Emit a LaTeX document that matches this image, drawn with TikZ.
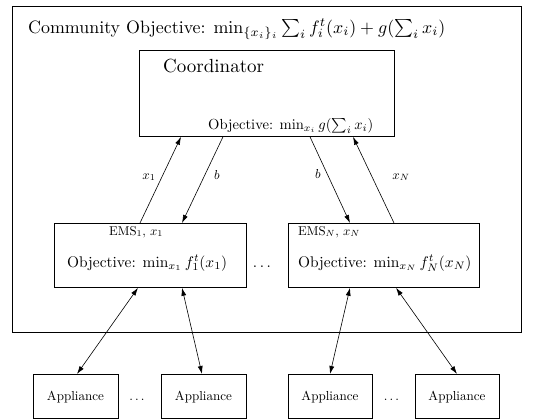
\documentclass[tikz,border=0pt]{standalone}
\usetikzlibrary{arrows.meta}
\newcommand\sbx[2]{\scalebox{#1}{#2}}
\begin{document}
\begin{tikzpicture}[x=1pt,y=-1pt,
  box/.style={draw, line width=0.8pt, inner sep=0pt, anchor=north west},
  txt/.style={inner sep=0pt, anchor=base west, font=\fontsize{10}{12}\selectfont},
  ctxt/.style={inner sep=0pt, anchor=base, font=\fontsize{10}{12}\selectfont},
  arr/.style={line width=0.6pt, -{Latex[length=8pt,width=5pt]}},
  darr/.style={line width=0.6pt, {Latex[length=8pt,width=5pt]}-{Latex[length=8pt,width=5pt]}},
  lab/.style={inner sep=0pt, anchor=base, font=\fontsize{10}{12}\selectfont}]
\useasboundingbox (0,0) rectangle (533,418);
% boxes
\node[box, minimum width=509pt, minimum height=326pt] (outer) at (12,6) {};
\node[box, minimum width=255pt, minimum height=86pt] (coord) at (139,50) {};
\node[box, minimum width=192pt, minimum height=64pt] (ems1) at (54,223) {};
\node[box, minimum width=191pt, minimum height=64pt] (emsN) at (288,223) {};
\node[box, minimum width=85pt, minimum height=43.5pt] (app1) at (33,374) {};
\node[box, minimum width=85pt, minimum height=43.5pt] (app2) at (161,374) {};
\node[box, minimum width=84pt, minimum height=43.5pt] (app3) at (288,374) {};
\node[box, minimum width=84pt, minimum height=43.5pt] (app4) at (415,374) {};
% texts
\node[txt] (title) at (28,33)
  {\sbx{1.789}{Community Objective: $\min_{\{x_i\}_i} \sum_i f_i^t(x_i) + g(\sum_i x_i)$}};
\node[txt] (coordname) at (163,72) {\sbx{1.9}{Coordinator}};
\node[txt] (coordobj) at (208,129)
  {\sbx{1.461}{Objective: $\min_{x_i} g(\sum_i x_i)$}};
\node[txt] (ems1name) at (109,235) {\sbx{1.276}{EMS$_1$, $x_1$}};
\node[txt] (ems1obj) at (67,267)
  {\sbx{1.544}{Objective: $\min_{x_1} f_1^t(x_1)$}};
\node[txt] (emsNname) at (298,235) {\sbx{1.276}{EMS$_N$, $x_N$}};
\node[txt] (emsNobj) at (298,267)
  {\sbx{1.544}{Objective: $\min_{x_N} f_N^t(x_N)$}};
\node[ctxt] (dotsmid) at (262,267) {\sbx{1.544}{$\dots$}};
\node[ctxt] (t1) at (75.5,400) {\sbx{1.307}{Appliance}};
\node[ctxt] (t2) at (203.5,400) {\sbx{1.307}{Appliance}};
\node[ctxt] (t3) at (330,400) {\sbx{1.307}{Appliance}};
\node[ctxt] (t4) at (457,400) {\sbx{1.307}{Appliance}};
\node[ctxt] (d1) at (137,400) {\sbx{1.307}{$\dots$}};
\node[ctxt] (d2) at (391.5,400) {\sbx{1.307}{$\dots$}};
% coordinator <-> EMS
\draw[arr] ([xshift=86pt]ems1.north west) -- ([xshift=42pt]coord.south west);
\draw[arr] ([xshift=84pt]coord.south west) -- ([xshift=128pt]ems1.north west);
\draw[arr] ([xshift=171pt]coord.south west) -- ([xshift=62pt]emsN.north west);
\draw[arr] ([xshift=106pt]emsN.north west) -- ([xshift=214pt]coord.south west);
\node[lab] (lx1) at (149,179) {\sbx{1.3}{$x_1$}};
\node[lab] (lb1) at (217,179) {\sbx{1.3}{$b$}};
\node[lab] (lb2) at (318,178) {\sbx{1.3}{$b$}};
\node[lab] (lxN) at (401,179) {\sbx{1.3}{$x_N$}};
% EMS <-> appliances
\draw[darr] ([xshift=84pt]ems1.south west) -- ([xshift=44pt]app1.north west);
\draw[darr] ([xshift=128pt]ems1.south west) -- ([xshift=41pt]app2.north west);
\draw[darr] ([xshift=62pt]emsN.south west) -- ([xshift=42pt]app3.north west);
\draw[darr] ([xshift=108pt]emsN.south west) -- ([xshift=42pt]app4.north west);
\end{tikzpicture}
\end{document}
